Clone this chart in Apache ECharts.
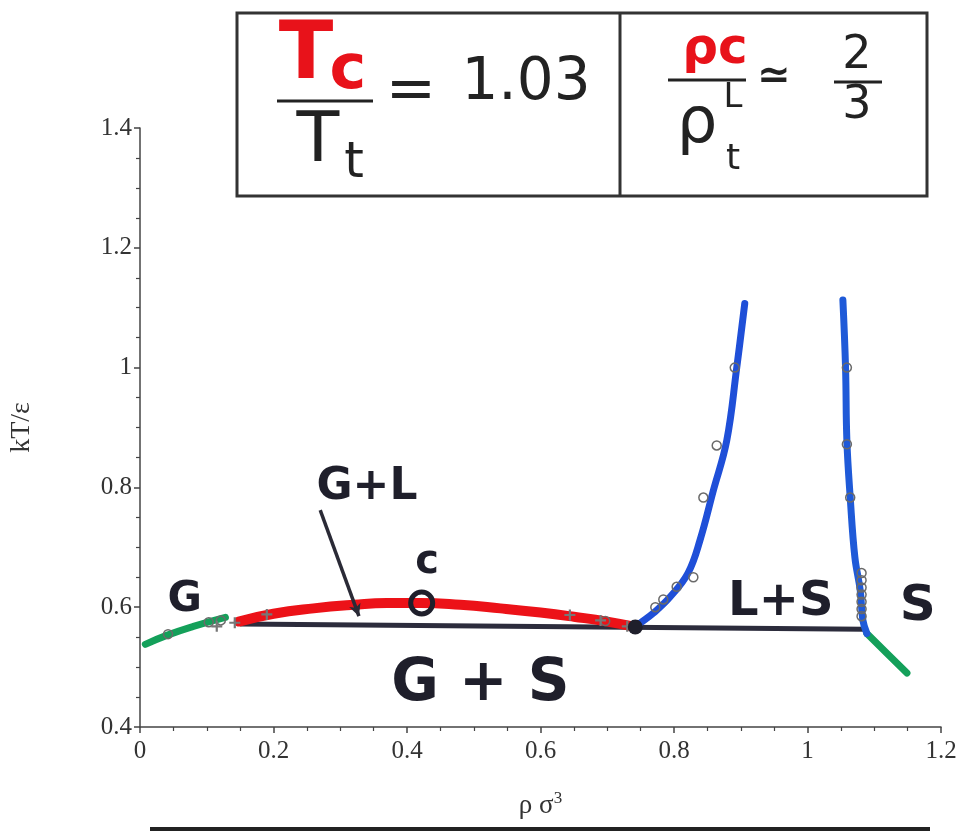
<!DOCTYPE html>
<html><head><meta charset="utf-8">
<script src="https://cdn.jsdelivr.net/npm/echarts@6/dist/echarts.min.js"></script>
<style>html,body{margin:0;padding:0;background:#fff}#c{width:967px;height:831px}</style>
</head><body><div id="c"></div>
<script>
// ---- data ----
const xTicks = [0, 0.2, 0.4, 0.6, 0.8, 1, 1.2];
const yTicks = [0.4, 0.6, 0.8, 1, 1.2, 1.4];
const gasBranch = [[0.008,0.538],[0.04,0.553],[0.08,0.568],[0.128,0.583]];
const solidLowBranch = [[1.089,0.556],[1.12,0.522],[1.149,0.49]];
const liquidGas = [[0.148,0.576],[0.2,0.589],[0.26,0.598],[0.32,0.604],[0.37,0.607],[0.42,0.607],[0.48,0.604],[0.54,0.598],[0.6,0.591],[0.65,0.584],[0.7,0.576],[0.742,0.567]];
const tripleLine = [[0.15,0.572],[1.085,0.563]];
const liquidBranch = [[0.742,0.567],[0.75,0.574],[0.769,0.59],[0.794,0.617],[0.821,0.657],[0.839,0.712],[0.859,0.795],[0.879,0.878],[0.894,1.0],[0.906,1.107]];
const solidBranch = [[1.089,0.556],[1.083,0.578],[1.079,0.628],[1.071,0.683],[1.064,0.783],[1.059,0.878],[1.057,1.0],[1.053,1.113]];
const simCircles = [[0.042,0.555],[0.103,0.575],[0.121,0.578],[0.697,0.577],[0.772,0.6],[0.784,0.613],[0.804,0.634],[0.829,0.65],[0.844,0.783],[0.864,0.87],[0.891,1.0],[1.059,1.0],[1.059,0.872],[1.064,0.783],[1.081,0.657],[1.081,0.645],[1.081,0.633],[1.081,0.621],[1.081,0.609],[1.081,0.597],[1.081,0.585]];
const simCrosses = [[0.115,0.568],[0.142,0.574],[0.19,0.588],[0.644,0.587],[0.69,0.578],[0.73,0.568]];
const criticalPoint = [[0.422,0.607]];
const triplePoint = [[0.742,0.567]];
const regionLabels = [[0.067,0.612,'G',42],[0.34,0.8,'G+L',44],[0.43,0.675,'c',40],[0.96,0.607,'L+S',48],[1.165,0.6,'S',50],[0.51,0.47,'G + S',58]];
const arrowFrom = [0.27,0.762], arrowTo = [0.328,0.585];

// ---- chart ----
const chart = echarts.init(document.getElementById('c'));
const serif = 'Liberation Serif';
const ink = '#1f1f2b';
const axisCommon = {
  axisLine:{show:true, lineStyle:{color:'#444', width:1.5}},
  axisTick:{show:true, inside:false, length:6, lineStyle:{color:'#444', width:1.5}},
  minorTick:{show:true, splitNumber:4, length:4, lineStyle:{color:'#444', width:1.2}},
  splitLine:{show:false}
};
const option = {
  backgroundColor:'#fff',
  animation:false,
  grid:{left:140, right:26, top:128, bottom:104},
  xAxis:Object.assign({type:'value', min:xTicks[0], max:xTicks[xTicks.length-1], interval:0.2,
    name:'{a|ρ σ}{s|3}', nameLocation:'middle', nameGap:63,
    nameTextStyle:{rich:{a:{fontFamily:serif,fontSize:27,color:'#333'}, s:{fontFamily:serif,fontSize:17,color:'#333',verticalAlign:'top',padding:[0,0,14,0]}}},
    axisLabel:{fontFamily:serif, fontSize:25, color:'#333', margin:12}
  }, axisCommon),
  yAxis:Object.assign({type:'value', min:yTicks[0], max:yTicks[yTicks.length-1], interval:0.2,
    name:'kT/ε', nameLocation:'middle', nameGap:104, nameRotate:90,
    nameTextStyle:{fontFamily:serif, fontSize:28, color:'#333'},
    axisLabel:{fontFamily:serif, fontSize:25, color:'#333', margin:8}
  }, axisCommon),
  series:[
    {type:'line', data:tripleLine, symbol:'none', lineStyle:{color:'#2c2c3c', width:5}, z:2},
    {type:'line', data:gasBranch, smooth:true, symbol:'none', lineStyle:{color:'#14a05a', width:7, cap:'round'}, z:3},
    {type:'line', data:solidLowBranch, smooth:true, symbol:'none', lineStyle:{color:'#14a05a', width:7, cap:'round'}, z:3},
    {type:'line', data:liquidGas, smooth:true, symbol:'none', lineStyle:{color:'#ec1218', width:10, cap:'round'}, z:3},
    {type:'line', data:liquidBranch, smooth:0.4, symbol:'none', lineStyle:{color:'#1f4fd8', width:7, cap:'round'}, z:3},
    {type:'line', data:solidBranch, smooth:0.4, symbol:'none', lineStyle:{color:'#1f5ad8', width:7, cap:'round'}, z:3},
    {type:'scatter', data:simCircles, symbol:'circle', symbolSize:9, itemStyle:{color:'rgba(0,0,0,0)', borderColor:'#6a6a6a', borderWidth:1.5, opacity:1}, z:4},
    {type:'scatter', data:simCrosses, symbol:'path://M4,0H6V4H10V6H6V10H4V6H0V4H4Z', symbolSize:11, itemStyle:{color:'#777', opacity:1}, z:4},
    {type:'scatter', data:criticalPoint, symbol:'circle', symbolSize:22, itemStyle:{color:'rgba(0,0,0,0)', borderColor:ink, borderWidth:5, opacity:1}, z:5},
    {type:'scatter', data:triplePoint, symbol:'circle', symbolSize:15, itemStyle:{color:ink, opacity:1}, z:5},
    {type:'scatter', data:regionLabels.map(d=>({value:[d[0],d[1]], name:d[2], label:{fontSize:d[3]}})), symbolSize:0, z:6,
      itemStyle:{opacity:1},
      label:{show:true, position:'inside', formatter:p=>p.name, fontFamily:'DejaVu Sans', fontWeight:'bold', color:ink}},
    {type:'line', data:[], z:6,
      markLine:{silent:true, symbol:['none','arrow'], symbolSize:[9,12], label:{show:false},
        lineStyle:{color:'#2a2a36', width:3.5, type:'solid'},
        data:[[{coord:arrowFrom},{coord:arrowTo}]]}}
  ],
  graphic:[
    {type:'rect', shape:{x:237,y:13,width:690,height:183}, style:{fill:'none', stroke:'#333', lineWidth:3}},
    {type:'line', shape:{x1:620,y1:13,x2:620,y2:196}, style:{stroke:'#333', lineWidth:3}},
    {type:'text', x:306, y:57, style:{text:'T', fontSize:80, fontWeight:'bold', fill:'#e8121a', fontFamily:'DejaVu Sans', align:'center', verticalAlign:'middle'}},
    {type:'text', x:348, y:72, style:{text:'c', fontSize:62, fontWeight:'bold', fill:'#e8121a', fontFamily:'DejaVu Sans', align:'center', verticalAlign:'middle'}},
    {type:'line', shape:{x1:277,y1:101,x2:373,y2:101}, style:{stroke:'#222', lineWidth:3}},
    {type:'text', x:318, y:143, style:{text:'T', fontSize:70, fill:'#222', fontFamily:'DejaVu Sans', align:'center', verticalAlign:'middle'}},
    {type:'text', x:354, y:164, style:{text:'t', fontSize:50, fill:'#222', fontFamily:'DejaVu Sans', align:'center', verticalAlign:'middle'}},
    {type:'text', x:411, y:92, style:{text:'=', fontSize:60, fill:'#222', fontFamily:'DejaVu Sans', align:'center', verticalAlign:'middle'}},
    {type:'text', x:526, y:84, style:{text:'1.03', fontSize:58, fill:'#222', fontFamily:'DejaVu Sans', align:'center', verticalAlign:'middle'}},
    {type:'text', x:715, y:50, style:{text:'ρc', fontSize:50, fontWeight:'bold', fill:'#e8121a', fontFamily:'DejaVu Sans', align:'center', verticalAlign:'middle'}},
    {type:'line', shape:{x1:668,y1:80,x2:746,y2:80}, style:{stroke:'#222', lineWidth:3}},
    {type:'text', x:697, y:125, style:{text:'ρ', fontSize:64, fill:'#222', fontFamily:'DejaVu Sans', align:'center', verticalAlign:'middle'}},
    {type:'text', x:733, y:98, style:{text:'L', fontSize:34, fill:'#222', fontFamily:'DejaVu Sans', align:'center', verticalAlign:'middle'}},
    {type:'text', x:733, y:160, style:{text:'t', fontSize:36, fill:'#222', fontFamily:'DejaVu Sans', align:'center', verticalAlign:'middle'}},
    {type:'text', x:774, y:78, style:{text:'≃', fontSize:40, fontWeight:'bold', fill:'#222', fontFamily:'DejaVu Sans', align:'center', verticalAlign:'middle'}},
    {type:'text', x:857, y:56, style:{text:'2', fontSize:46, fill:'#222', fontFamily:'DejaVu Sans', align:'center', verticalAlign:'middle'}},
    {type:'line', shape:{x1:834,y1:82,x2:882,y2:82}, style:{stroke:'#222', lineWidth:3}},
    {type:'text', x:857, y:106, style:{text:'3', fontSize:46, fill:'#222', fontFamily:'DejaVu Sans', align:'center', verticalAlign:'middle'}},
    {type:'rect', shape:{x:150,y:827,width:780,height:4}, style:{fill:'#222'}}
  ]
};
chart.setOption(option);
</script></body></html>
